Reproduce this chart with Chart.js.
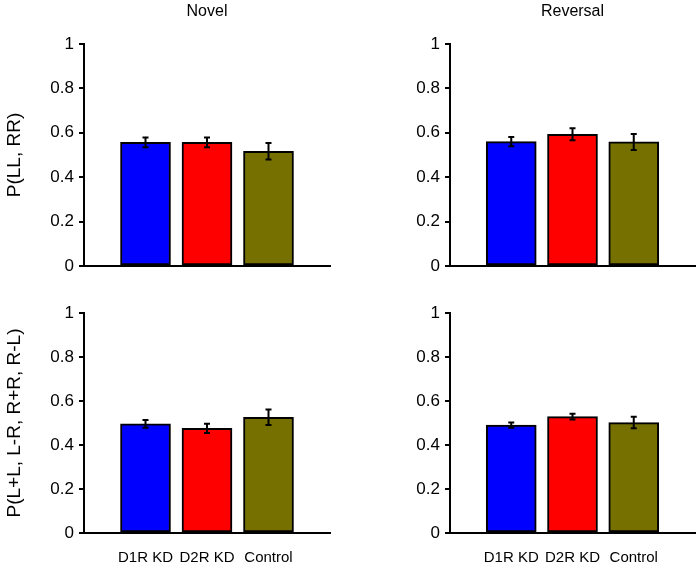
<!DOCTYPE html>
<html>
<head>
<meta charset="utf-8">
<script src="https://cdn.jsdelivr.net/npm/chart.js@4/dist/chart.umd.min.js"></script>
<style>
  html, body { margin: 0; padding: 0; background: #fff; }
  #wrap { position: relative; width: 697px; height: 566px; overflow: hidden; }
  canvas { position: absolute; }
</style>
</head>
<body>
<div id="wrap">
  <canvas id="tl" width="345" height="283" style="left:0;top:0"></canvas>
  <canvas id="tr" width="337" height="283" style="left:360px;top:0"></canvas>
  <canvas id="bl" width="345" height="283" style="left:0;top:283px"></canvas>
  <canvas id="br" width="337" height="283" style="left:360px;top:283px"></canvas>
</div>
<script>
// ─── Data ──────────────────────────────────────────────────
const GROUPS = ['D1R KD', 'D2R KD', 'Control'];
const BAR_COLORS = ['#0000ff', '#ff0000', '#757000'];
const Y_TICKS = [0, 0.2, 0.4, 0.6, 0.8, 1];

// P(LL, RR)
const NOVEL_SAME      = [0.557, 0.557, 0.517];
const NOVEL_SAME_ERR  = [0.022, 0.022, 0.037];
const REV_SAME        = [0.560, 0.593, 0.559];
const REV_SAME_ERR    = [0.021, 0.027, 0.036];

// P(L+L, L-R, R+R, R-L)
const NOVEL_ALT       = [0.496, 0.476, 0.526];
const NOVEL_ALT_ERR   = [0.018, 0.021, 0.035];
const REV_ALT         = [0.490, 0.529, 0.502];
const REV_ALT_ERR     = [0.012, 0.013, 0.026];

const FONT = "'Liberation Sans', Arial, sans-serif";

// ─── Plugins ───────────────────────────────────────────────
const errorBars = {
  id: 'errorBars',
  afterDatasetsDraw(chart, args, opts) {
    const { ctx, scales: { y } } = chart;
    const meta = chart.getDatasetMeta(0);
    const vals = chart.data.datasets[0].data;
    ctx.save();
    ctx.strokeStyle = '#000';
    ctx.lineWidth = 2;
    meta.data.forEach((bar, i) => {
      const v = vals[i].y, e = opts.errors[i];
      const yTop = y.getPixelForValue(v + e);
      const yBot = y.getPixelForValue(v - e);
      ctx.beginPath();
      ctx.moveTo(bar.x, yTop); ctx.lineTo(bar.x, yBot);
      ctx.moveTo(bar.x - 3, yTop); ctx.lineTo(bar.x + 3, yTop);
      ctx.moveTo(bar.x - 3, yBot); ctx.lineTo(bar.x + 3, yBot);
      ctx.stroke();
    });
    ctx.restore();
  }
};

const panelTitle = {
  id: 'panelTitle',
  afterDraw(chart, args, opts) {
    if (!opts.text) return;
    const { ctx, chartArea } = chart;
    ctx.save();
    ctx.font = '16px ' + FONT;
    ctx.fillStyle = '#000';
    ctx.textAlign = 'center';
    ctx.textBaseline = 'middle';
    ctx.fillText(opts.text, (chartArea.left + chartArea.right) / 2, 12);
    ctx.restore();
  }
};

// ─── Factory ───────────────────────────────────────────────
function makePanel(id, values, errors, cfg) {
  return new Chart(document.getElementById(id), {
    type: 'bar',
    data: {
      datasets: [{
        data: values.map((v, i) => ({ x: i, y: v })),
        backgroundColor: BAR_COLORS,
        borderColor: '#000',
        borderWidth: 2,
        borderSkipped: false,
        barThickness: 50
      }]
    },
    options: {
      responsive: false,
      animation: false,
      layout: { padding: cfg.padding },
      plugins: {
        legend: { display: false },
        tooltip: { enabled: false },
        errorBars: { errors },
        panelTitle: { text: cfg.title }
      },
      scales: {
        x: {
          type: 'linear',
          min: -1, max: 3,
          offset: false,
          afterBuildTicks: s => { s.ticks = GROUPS.map((_, i) => ({ value: i })); },
          afterFit: s => { s.height = cfg.xHeight; },
          grid: { display: false, drawTicks: false, offset: false },
          border: { display: true, color: '#000', width: 2 },
          ticks: {
            display: cfg.showX,
            padding: 16,
            color: '#000',
            font: { family: FONT, size: 15 },
            callback: v => GROUPS[v]
          }
        },
        y: {
          min: 0, max: 1,
          afterBuildTicks: s => { s.ticks = Y_TICKS.map(v => ({ value: v })); },
          afterFit: s => { s.width = cfg.yWidth; },
          grid: { drawOnChartArea: false, drawTicks: true, tickLength: 5, color: '#000', lineWidth: 2 },
          border: { display: true, color: '#000', width: 2 },
          ticks: {
            padding: 5,
            color: '#000',
            font: { family: FONT, size: 17 },
            callback: v => String(v)
          },
          title: {
            display: !!cfg.yTitle,
            text: cfg.yTitle,
            color: '#000',
            font: { family: FONT, size: 19 },
            padding: { top: 3, bottom: 0 }
          }
        }
      }
    },
    plugins: [errorBars, panelTitle]
  });
}

makePanel('tl', NOVEL_SAME, NOVEL_SAME_ERR, {
  title: 'Novel', yTitle: 'P(LL, RR)', showX: false,
  yWidth: 84, xHeight: 0, padding: { top: 44, bottom: 17, left: 0, right: 15 }
});
makePanel('tr', REV_SAME, REV_SAME_ERR, {
  title: 'Reversal', yTitle: '', showX: false,
  yWidth: 90, xHeight: 0, padding: { top: 44, bottom: 17, left: 0, right: 2 }
});
makePanel('bl', NOVEL_ALT, NOVEL_ALT_ERR, {
  title: '', yTitle: 'P(L+L, L-R, R+R, R-L)', showX: true,
  yWidth: 84, xHeight: 33, padding: { top: 30, bottom: 0, left: 0, right: 15 }
});
makePanel('br', REV_ALT, REV_ALT_ERR, {
  title: '', yTitle: '', showX: true,
  yWidth: 90, xHeight: 33, padding: { top: 30, bottom: 0, left: 0, right: 2 }
});
</script>
</body>
</html>
